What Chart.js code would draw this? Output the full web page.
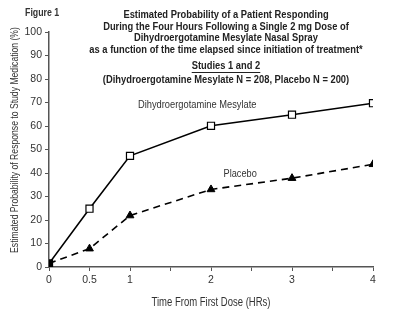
<!DOCTYPE html>
<html>
<head>
<meta charset="utf-8">
<script src="https://cdn.jsdelivr.net/npm/chart.js@4.4.1/dist/chart.umd.min.js"></script>
<style>
  html, body { margin: 0; padding: 0; background: #fff; }
  #wrap { width: 400px; height: 312px; position: relative; }
</style>
</head>
<body>
<div id="wrap"><canvas id="fig1"></canvas></div>
<script>
var hours = [0, 0.5, 1, 2, 3, 4];
var dheValues = [1.5, 24.8, 47.3, 60.1, 64.8, 69.7];
var placeboValues = [1.5, 7.8, 21.9, 33, 37.8, 43.7];
var xLabelled = [0, 0.5, 1, 2, 3, 4];
var titleLines = [
  "Estimated Probability of a Patient Responding",
  "During the Four Hours Following a Single 2 mg Dose of",
  "Dihydroergotamine Mesylate Nasal Spray",
  "as a function of the time elapsed since initiation of treatment*",
  "Studies 1 and 2",
  "(Dihydroergotamine Mesylate N = 208, Placebo N = 200)"
];

var sans = "'Liberation Sans', Arial, sans-serif";
var ink = "#333";

function toPoints(xs, ys) {
  return xs.map(function (x, i) { return { x: x, y: ys[i] }; });
}

// draw text squeezed horizontally, like the condensed face of the original
function narrowText(ctx, text, x, y, squeeze) {
  var w = ctx.measureText(text).width * squeeze;
  ctx.fillText(text, x, y, w);
  return w;
}

var textPlugin = {
  id: "texts",
  afterDraw: function (chart) {
    var ctx = chart.ctx;
    var xs = chart.scales.x, ys = chart.scales.y;
    ctx.save();
    ctx.fillStyle = ink;
    ctx.textBaseline = "middle";

    ctx.font = "bold 11px " + sans;
    ctx.textAlign = "left";
    narrowText(ctx, "Figure 1", 25, 13, 0.8);

    ctx.fillStyle = "#222";
    ctx.textAlign = "center";
    var ty = [15, 26.5, 38, 50, 66, 79.5];
    titleLines.forEach(function (t, i) {
      var w = narrowText(ctx, t, 226, ty[i], 0.85);
      if (i === 4) ctx.fillRect(226 - w / 2, ty[i] + 6, w, 1);
    });
    ctx.fillStyle = ink;

    ctx.font = "11.5px " + sans;
    narrowText(ctx, "Dihydroergotamine Mesylate", xs.getPixelForValue(1.83), ys.getPixelForValue(68.8), 0.81);
    narrowText(ctx, "Placebo", xs.getPixelForValue(2.36), ys.getPixelForValue(39.7), 0.8);

    // axis titles
    ctx.font = "12.5px " + sans;
    narrowText(ctx, "Time From First Dose (HRs)", (xs.left + xs.right) / 2, 303, 0.76);

    ctx.translate(15, 140);
    ctx.rotate(-Math.PI / 2);
    ctx.font = "11.5px " + sans;
    narrowText(ctx, "Estimated Probability of Response to Study Medication (%)", 0, 0, 0.75);
    ctx.restore();
  }
};

new Chart(document.getElementById("fig1"), {
  type: "line",
  data: {
    datasets: [
      {
        label: "Placebo",
        data: toPoints(hours, placeboValues),
        borderColor: "#000",
        borderWidth: 1.6,
        borderDash: [7, 5],
        fill: false,
        pointStyle: "triangle",
        pointRadius: [0, 4.5, 4.5, 4.5, 4.5, 4.5],
        pointBackgroundColor: "#000",
        pointBorderColor: "#000",
        pointBorderWidth: 1
      },
      {
        label: "Dihydroergotamine Mesylate",
        data: toPoints(hours, dheValues),
        borderColor: "#000",
        borderWidth: 1.6,
        fill: false,
        pointStyle: "rect",
        pointRadius: 5,
        pointBackgroundColor: ["#000", "#fff", "#fff", "#fff", "#fff", "#fff"],
        pointBorderColor: "#000",
        pointBorderWidth: 1.2
      }
    ]
  },
  options: {
    responsive: true,
    maintainAspectRatio: false,
    animation: false,
    layout: { padding: { top: 32, right: 27, left: 0, bottom: 0 } },
    plugins: { legend: { display: false }, tooltip: { enabled: false } },
    scales: {
      x: {
        type: "linear",
        min: 0,
        max: 4,
        afterFit: function (s) { s.height = 45; },
        border: { color: "#555", width: 1.5 },
        grid: { drawOnChartArea: false, tickLength: 4, color: "#555" },
        ticks: {
          stepSize: 0.5,
          color: ink,
          font: { family: sans, size: 10.5 },
          padding: 3,
          maxRotation: 0,
          callback: function (v) { return xLabelled.indexOf(v) >= 0 ? String(v) : ""; }
        }
      },
      y: {
        min: 0,
        max: 100,
        afterFit: function (s) { s.width = 49; },
        border: { color: "#555", width: 1.5 },
        grid: { drawOnChartArea: false, tickLength: 4, color: "#555" },
        ticks: {
          stepSize: 10,
          color: ink,
          font: { family: sans, size: 10.5 },
          padding: 3
        }
      }
    }
  },
  plugins: [textPlugin]
});
</script>
</body>
</html>
